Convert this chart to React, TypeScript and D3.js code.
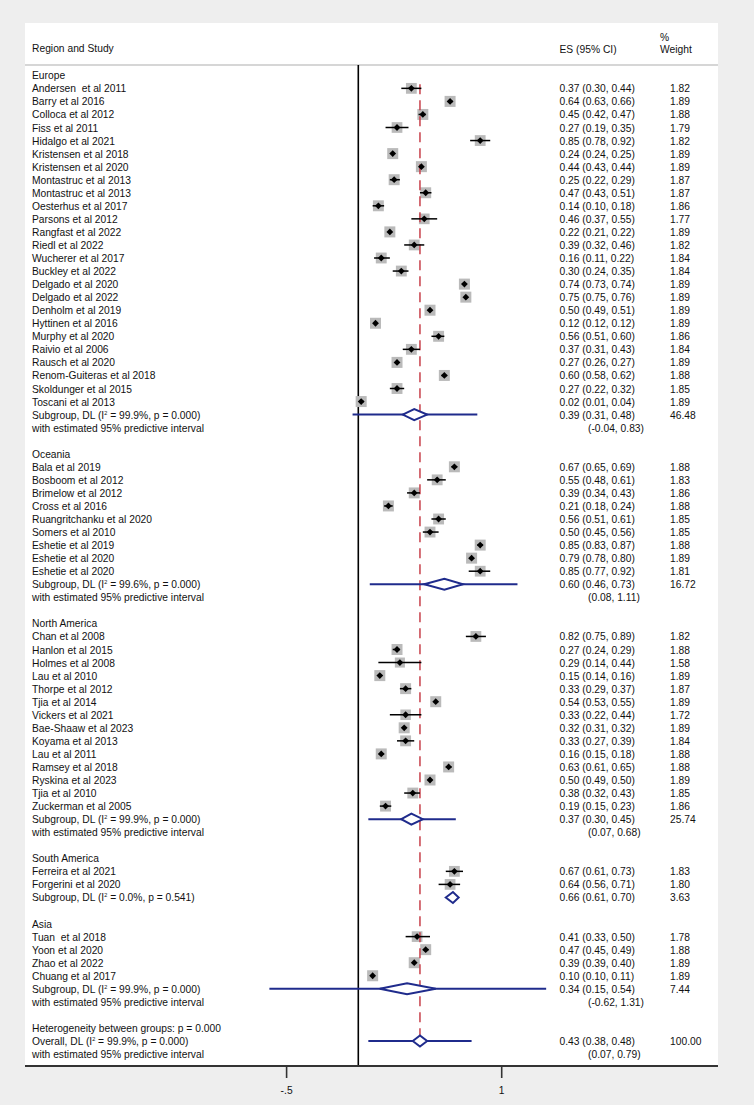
import React from "react";
import * as d3 from "d3";

type Study = [string, number, number, number, number];

const europe: Study[] = [
  ["Andersen  et al 2011", 0.37, 0.30, 0.44, 1.82],
  ["Barry et al 2016", 0.64, 0.63, 0.66, 1.89],
  ["Colloca et al 2012", 0.45, 0.42, 0.47, 1.88],
  ["Fiss et al 2011", 0.27, 0.19, 0.35, 1.79],
  ["Hidalgo et al 2021", 0.85, 0.78, 0.92, 1.82],
  ["Kristensen et al 2018", 0.24, 0.24, 0.25, 1.89],
  ["Kristensen et al 2020", 0.44, 0.43, 0.44, 1.89],
  ["Montastruc et al 2013", 0.25, 0.22, 0.29, 1.87],
  ["Montastruc et al 2013", 0.47, 0.43, 0.51, 1.87],
  ["Oesterhus et al 2017", 0.14, 0.10, 0.18, 1.86],
  ["Parsons et al 2012", 0.46, 0.37, 0.55, 1.77],
  ["Rangfast et al 2022", 0.22, 0.21, 0.22, 1.89],
  ["Riedl et al 2022", 0.39, 0.32, 0.46, 1.82],
  ["Wucherer et al 2017", 0.16, 0.11, 0.22, 1.84],
  ["Buckley et al 2022", 0.30, 0.24, 0.35, 1.84],
  ["Delgado et al 2020", 0.74, 0.73, 0.74, 1.89],
  ["Delgado et al 2022", 0.75, 0.75, 0.76, 1.89],
  ["Denholm et al 2019", 0.50, 0.49, 0.51, 1.89],
  ["Hyttinen et al 2016", 0.12, 0.12, 0.12, 1.89],
  ["Murphy et al 2020", 0.56, 0.51, 0.60, 1.86],
  ["Raivio et al 2006", 0.37, 0.31, 0.43, 1.84],
  ["Rausch et al 2020", 0.27, 0.26, 0.27, 1.89],
  ["Renom-Guiteras et al 2018", 0.60, 0.58, 0.62, 1.88],
  ["Skoldunger et al 2015", 0.27, 0.22, 0.32, 1.85],
  ["Toscani et al 2013", 0.02, 0.01, 0.04, 1.89],
];

const oceania: Study[] = [
  ["Bala et al 2019", 0.67, 0.65, 0.69, 1.88],
  ["Bosboom et al 2012", 0.55, 0.48, 0.61, 1.83],
  ["Brimelow et al 2012", 0.39, 0.34, 0.43, 1.86],
  ["Cross et al 2016", 0.21, 0.18, 0.24, 1.88],
  ["Ruangritchanku et al 2020", 0.56, 0.51, 0.61, 1.85],
  ["Somers et al 2010", 0.50, 0.45, 0.56, 1.85],
  ["Eshetie et al 2019", 0.85, 0.83, 0.87, 1.88],
  ["Eshetie et al 2020", 0.79, 0.78, 0.80, 1.89],
  ["Eshetie et al 2020", 0.85, 0.77, 0.92, 1.81],
];

const northAmerica: Study[] = [
  ["Chan et al 2008", 0.82, 0.75, 0.89, 1.82],
  ["Hanlon et al 2015", 0.27, 0.24, 0.29, 1.88],
  ["Holmes et al 2008", 0.29, 0.14, 0.44, 1.58],
  ["Lau et al 2010", 0.15, 0.14, 0.16, 1.89],
  ["Thorpe et al 2012", 0.33, 0.29, 0.37, 1.87],
  ["Tjia et al 2014", 0.54, 0.53, 0.55, 1.89],
  ["Vickers et al 2021", 0.33, 0.22, 0.44, 1.72],
  ["Bae-Shaaw et al 2023", 0.32, 0.31, 0.32, 1.89],
  ["Koyama et al 2013", 0.33, 0.27, 0.39, 1.84],
  ["Lau et al 2011", 0.16, 0.15, 0.18, 1.88],
  ["Ramsey et al 2018", 0.63, 0.61, 0.65, 1.88],
  ["Ryskina et al 2023", 0.50, 0.49, 0.50, 1.89],
  ["Tjia et al 2010", 0.38, 0.32, 0.43, 1.85],
  ["Zuckerman et al 2005", 0.19, 0.15, 0.23, 1.86],
];

const southAmerica: Study[] = [
  ["Ferreira et al 2021", 0.67, 0.61, 0.73, 1.83],
  ["Forgerini et al 2020", 0.64, 0.56, 0.71, 1.80],
];

const asia: Study[] = [
  ["Tuan  et al 2018", 0.41, 0.33, 0.50, 1.78],
  ["Yoon et al 2020", 0.47, 0.45, 0.49, 1.88],
  ["Zhao et al 2022", 0.39, 0.39, 0.40, 1.89],
  ["Chuang et al 2017", 0.10, 0.10, 0.11, 1.89],
];

const regionNames = ["Europe", "Oceania", "North America", "South America", "Asia"];
const regionStudies = [europe, oceania, northAmerica, southAmerica, asia];
const subgroupES = [0.39, 0.60, 0.37, 0.66, 0.34];
const subgroupLo = [0.31, 0.46, 0.30, 0.61, 0.15];
const subgroupHi = [0.48, 0.73, 0.45, 0.70, 0.54];
const subgroupWeight = [46.48, 16.72, 25.74, 3.63, 7.44];
const subgroupI2 = ["99.9%", "99.6%", "99.9%", "0.0%", "99.9%"];
const subgroupP = ["0.000", "0.000", "0.000", "0.541", "0.000"];
const predLo: (number | null)[] = [-0.04, 0.08, 0.07, null, -0.62];
const predHi: (number | null)[] = [0.83, 1.11, 0.68, null, 1.31];

const overallES = 0.43;
const overallLo = 0.38;
const overallHi = 0.48;
const overallPredLo = 0.07;
const overallPredHi = 0.79;
const overallI2 = "99.9%";
const overallP = "0.000";
const overallWeight = 100.0;
const heterogeneityP = "0.000";

const xTicks = [-0.5, 1];
const xTickLabels = ["-.5", "1"];

const W = 754;
const H = 1105;
const FONT = "'Liberation Sans', Arial, Helvetica, sans-serif";
const FS = 11.2;
const SX = 0.918;
const TXT = "#111111";
const NAVY = "#1f2b8c";
const RED = "#c8414b";

const fmt = (v: number) => d3.format(".2f")(v).replace("\u2212", "-");

const x = d3.scaleLinear().domain([0, 1]).range([358.3, 501.7]);
const rowY = d3.scaleLinear().domain([0, 1]).range([75.3, 75.3 + 13.05]);

function T({ x, y, children, anchor = "start", size = FS }: any) {
  return (
    <text
      transform={`translate(${x},${y + size * 0.36}) scale(${SX},1)`}
      fontFamily={FONT}
      fontSize={size}
      fill={TXT}
      textAnchor={anchor}
      style={{ whiteSpace: "pre" }}
    >
      {children}
    </text>
  );
}

function HetLabel({ prefix, i2, p }: { prefix: string; i2: string; p: string }) {
  return (
    <>
      {prefix} (I<tspan dy={-4} fontSize={6}>2</tspan>
      <tspan dy={4}>{` = ${i2}, p = ${p})`}</tspan>
    </>
  );
}

export default function App() {
  const COL_STUDY = 32;
  const COL_ES = 559.5;
  const COL_PI = 588;
  const COL_W = 670;

  const boxEls: React.ReactNode[] = [];
  const ciEls: React.ReactNode[] = [];
  const diamondEls: React.ReactNode[] = [];
  const textEls: React.ReactNode[] = [];

  const addPooled = (
    key: string,
    r: number,
    es: number,
    lo: number,
    hi: number,
    pl: number | null,
    ph: number | null
  ) => {
    const y = rowY(r);
    const h = 5.5;
    if (pl !== null && ph !== null) {
      diamondEls.push(
        <line key={key + "pi"} x1={x(pl)} x2={x(ph)} y1={y} y2={y} stroke={NAVY} strokeWidth={2} />
      );
    }
    const pts = [
      [x(lo), y],
      [x(es), y - h],
      [x(hi), y],
      [x(es), y + h],
    ];
    diamondEls.push(
      <path
        key={key + "d"}
        d={"M" + pts.map((p) => p.join(",")).join("L") + "Z"}
        fill="#ffffff"
        stroke={NAVY}
        strokeWidth={2}
        strokeLinejoin="miter"
      />
    );
  };

  let r = 0;
  regionNames.forEach((name, gi) => {
    textEls.push(<T key={"rg" + gi} x={COL_STUDY} y={rowY(r)}>{name}</T>);
    r++;
    regionStudies[gi].forEach((s, si) => {
      const [label, es, lo, hi, w] = s;
      const y = rowY(r);
      const side = 8 * Math.sqrt(w);
      boxEls.push(
        <rect
          key={`b${gi}-${si}`}
          x={x(es) - side / 2}
          y={y - side / 2}
          width={side}
          height={side}
          fill="#bababa"
        />
      );
      ciEls.push(
        <line key={`c${gi}-${si}`} x1={x(lo)} x2={x(hi)} y1={y} y2={y} stroke="#000" strokeWidth={1.5} />
      );
      const m = 3.4;
      ciEls.push(
        <path
          key={`m${gi}-${si}`}
          d={`M${x(es) - m},${y}L${x(es)},${y - m}L${x(es) + m},${y}L${x(es)},${y + m}Z`}
          fill="#000"
        />
      );
      textEls.push(<T key={`t${gi}-${si}`} x={COL_STUDY} y={y}>{label}</T>);
      textEls.push(
        <T key={`e${gi}-${si}`} x={COL_ES} y={y}>{`${fmt(es)} (${fmt(lo)}, ${fmt(hi)})`}</T>
      );
      textEls.push(<T key={`w${gi}-${si}`} x={COL_W} y={y}>{fmt(w)}</T>);
      r++;
    });
    const ys = rowY(r);
    textEls.push(
      <T key={"sg" + gi} x={COL_STUDY} y={ys}>
        <HetLabel prefix="Subgroup, DL" i2={subgroupI2[gi]} p={subgroupP[gi]} />
      </T>
    );
    textEls.push(
      <T key={"se" + gi} x={COL_ES} y={ys}>
        {`${fmt(subgroupES[gi])} (${fmt(subgroupLo[gi])}, ${fmt(subgroupHi[gi])})`}
      </T>
    );
    textEls.push(<T key={"sw" + gi} x={COL_W} y={ys}>{fmt(subgroupWeight[gi])}</T>);
    addPooled("sg" + gi, r, subgroupES[gi], subgroupLo[gi], subgroupHi[gi], predLo[gi], predHi[gi]);
    r++;
    if (predLo[gi] !== null && predHi[gi] !== null) {
      const yp = rowY(r);
      textEls.push(
        <T key={"pl" + gi} x={COL_STUDY} y={yp}>with estimated 95% predictive interval</T>
      );
      textEls.push(
        <T key={"pv" + gi} x={COL_PI} y={yp}>{`(${fmt(predLo[gi] as number)}, ${fmt(predHi[gi] as number)})`}</T>
      );
      r++;
    }
    r++;
  });

  textEls.push(
    <T key="het" x={COL_STUDY} y={rowY(r)}>{`Heterogeneity between groups: p = ${heterogeneityP}`}</T>
  );
  r++;
  const overallRow = r;
  textEls.push(
    <T key="ov" x={COL_STUDY} y={rowY(r)}>
      <HetLabel prefix="Overall, DL" i2={overallI2} p={overallP} />
    </T>
  );
  textEls.push(
    <T key="ove" x={COL_ES} y={rowY(r)}>{`${fmt(overallES)} (${fmt(overallLo)}, ${fmt(overallHi)})`}</T>
  );
  textEls.push(<T key="ovw" x={COL_W} y={rowY(r)}>{fmt(overallWeight)}</T>);
  addPooled("ov", r, overallES, overallLo, overallHi, overallPredLo, overallPredHi);
  r++;
  textEls.push(
    <T key="ovpl" x={COL_STUDY} y={rowY(r)}>with estimated 95% predictive interval</T>
  );
  textEls.push(
    <T key="ovpv" x={COL_PI} y={rowY(r)}>{`(${fmt(overallPredLo)}, ${fmt(overallPredHi)})`}</T>
  );

  const panelL = 25;
  const panelR = 718;
  const panelT = 23;
  const axisY = 1066;
  const headerLineY = 65;

  return (
    <svg
      width={W}
      height={H}
      style={{ position: "absolute", left: 0, top: 0, display: "block" }}
      xmlns="http://www.w3.org/2000/svg"
    >
      <rect x={0} y={0} width={W} height={H} fill="#eeeeee" />
      <rect x={panelL} y={panelT} width={panelR - panelL} height={axisY - panelT} fill="#ffffff" />
      <T x={COL_STUDY} y={48}>Region and Study</T>
      <T x={COL_ES} y={49}>ES (95% CI)</T>
      <T x={660} y={37}>%</T>
      <T x={660} y={49}>Weight</T>
      <line x1={panelL} x2={panelR} y1={headerLineY} y2={headerLineY} stroke="#d6d6d6" strokeWidth={2} />
      <line x1={x(0)} x2={x(0)} y1={headerLineY} y2={axisY} stroke="#000" strokeWidth={1.6} />
      {boxEls}
      <line
        x1={x(overallES)}
        x2={x(overallES)}
        y1={rowY(1) - 4}
        y2={rowY(overallRow)}
        stroke={RED}
        strokeWidth={1.5}
        strokeDasharray="10,6"
      />
      {ciEls}
      {diamondEls}
      {textEls}
      <line x1={panelL} x2={panelR} y1={axisY} y2={axisY} stroke="#333" strokeWidth={2} />
      {xTicks.map((t, i) => (
        <g key={"tick" + i}>
          <line x1={x(t)} x2={x(t)} y1={axisY} y2={axisY + 12} stroke="#333" strokeWidth={1.6} />
          <T x={x(t)} y={axisY + 24} anchor="middle">{xTickLabels[i]}</T>
        </g>
      ))}
    </svg>
  );
}
